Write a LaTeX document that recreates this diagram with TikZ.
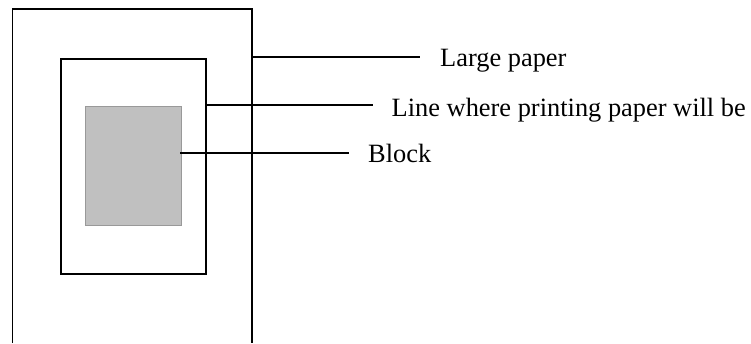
\documentclass[tikz,border=0pt]{standalone}
\usepackage{fontspec}
\setmainfont{Liberation Serif}
\definecolor{blockfill}{HTML}{C0C0C0}
\definecolor{blockedge}{HTML}{999999}
\begin{document}
\begin{tikzpicture}[x=1pt,y=-1pt,
  frame/.style={line width=1.6pt,draw=black},
  lead/.style={line width=1.6pt,draw=black},
  label/.style={anchor=base west,inner sep=0pt,font=\fontsize{26.4}{30}\selectfont}]
\useasboundingbox (0,0) rectangle (751,343);
% outer large paper (open at bottom)
\draw[frame] (12.5,343) -- (12.5,9) -- (252,9) -- (252,343);
% inner frame
\node[frame,minimum width=145pt,minimum height=215pt,inner sep=0pt,anchor=north west] (inner) at (60,58) {};
% gray block
\node[fill=blockfill,draw=blockedge,line width=1.4pt,minimum width=96pt,minimum height=119pt,inner sep=0pt,anchor=north west] (block) at (85,106) {};
% labels
\node[label] (lp) at (440,66.7) {Large paper};
\node[label] (lw) at (391.5,116.5) {Line where printing paper will be};
\node[label] (lb) at (368,162.7) {Block};
% leader line anchors
\coordinate (s1) at (252,57);
\coordinate (e1) at (420,57);
\coordinate (s2) at (inner.east |- 0,105);
\coordinate (e2) at (373,105);
\coordinate (s3) at (180,153);
\coordinate (e3) at (349,153);
\draw[lead] (s1) -- (e1);
\draw[lead] (s2) -- (e2);
\draw[lead] (s3) -- (e3);
\end{tikzpicture}
\end{document}
